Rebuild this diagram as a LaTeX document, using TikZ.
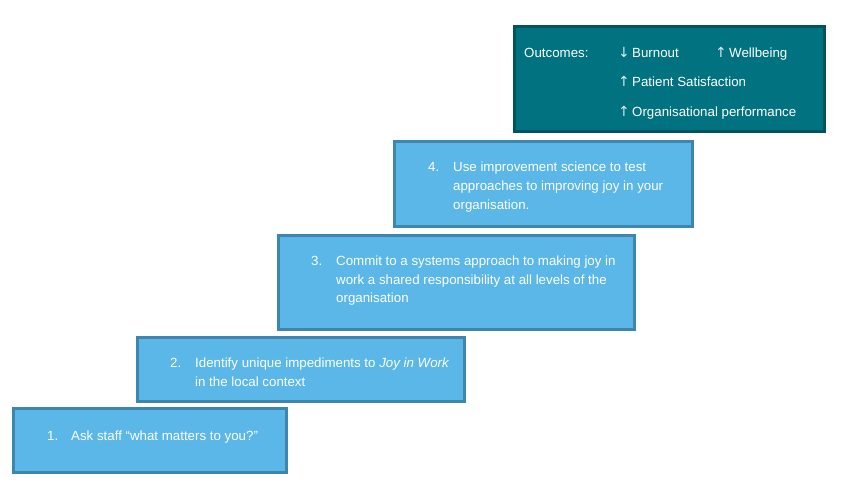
\documentclass[tikz,border=0pt]{standalone}
\usepackage{fontspec}
\setmainfont{Liberation Sans}
\newfontfamily\symfont{DejaVu Sans}
\definecolor{stepfill}{RGB}{90,183,232}
\definecolor{stepline}{RGB}{62,134,174}
\definecolor{outfill}{RGB}{0,114,128}
\definecolor{outline}{RGB}{0,84,95}
\definecolor{arrtint}{RGB}{215,235,238}
\begin{document}
\begin{tikzpicture}[x=1pt,y=-1pt,
  stepbox/.style={draw=stepline,fill=stepfill,line width=3pt},
  outbox/.style={draw=outline,fill=outfill,line width=3pt},
  txt/.style={anchor=base west,inner sep=0pt,text=white,font=\fontsize{13.3}{15}\selectfont},
  arr/.style={anchor=base west,inner sep=0pt,text=arrtint,font=\symfont\fontsize{14}{15}\selectfont}]
\useasboundingbox (0,0) rectangle (851,485);
% boxes
\draw[outbox] (514.5,26.5) rectangle (824.5,131.5);
\draw[stepbox] (394.5,141.5) rectangle (692.5,226.5);
\draw[stepbox] (278.5,235.5) rectangle (634.5,329.5);
\draw[stepbox] (137.5,337.5) rectangle (464.5,401.5);
\draw[stepbox] (13.5,408.5) rectangle (286.5,472.5);
% outcomes
\node[txt] (o0) at (524,57) {Outcomes:};
\node[arr] (a1) at (618,57) {↓};
\node[txt] (o1) at (632,57) {Burnout};
\node[arr] (a2) at (715,57) {↑};
\node[txt] (o2) at (729,57) {Wellbeing};
\node[arr] (a3) at (618,86) {↑};
\node[txt] (o3) at (632,86) {Patient Satisfaction};
\node[arr] (a4) at (618,116) {↑};
\node[txt] (o4) at (632,116) {Organisational performance};
% step 4
\node[txt] (n4) at (428,171) {4.};
\node[txt] (t4a) at (453,171) {Use improvement science to test};
\node[txt] (t4b) at (453,190) {approaches to improving joy in your};
\node[txt] (t4c) at (453,209) {organisation.};
% step 3
\node[txt] (n3) at (311,265) {3.};
\node[txt] (t3a) at (336,265) {Commit to a systems approach to making joy in};
\node[txt] (t3b) at (336,284) {work a shared responsibility at all levels of the};
\node[txt] (t3c) at (336,302) {organisation};
% step 2
\node[txt] (n2) at (170,367) {2.};
\node[txt] (t2a) at (195,367) {Identify unique impediments to \textit{Joy in Work}};
\node[txt] (t2b) at (195,386) {in the local context};
% step 1
\node[txt] (n1) at (47,440) {1.};
\node[txt] (t1a) at (71,440) {Ask staff “what matters to you?”};
\end{tikzpicture}
\end{document}
